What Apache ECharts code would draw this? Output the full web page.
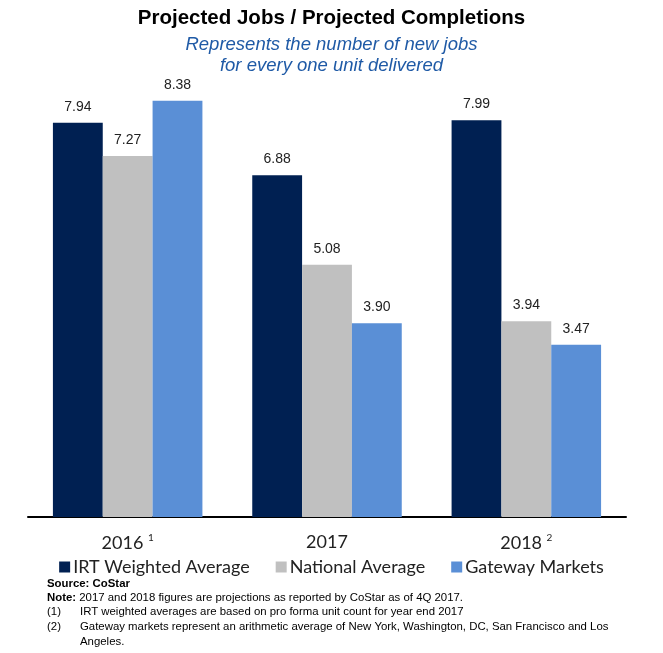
<!DOCTYPE html>
<html>
<head>
<meta charset="utf-8">
<script src="https://cdn.jsdelivr.net/npm/echarts@6/dist/echarts.min.js"></script>
<style>
  html, body { margin: 0; padding: 0; background: #fff; }
  #chart { width: 663px; height: 653px; }
</style>
</head>
<body>
<div id="chart"></div>
<script>
const categories = ['2016', '2017', '2018']
const superscripts = ['1', '', '2']
const irtWeighted = [7.94, 6.88, 7.99]
const nationalAvg = [7.27, 5.08, 3.94]
const gatewayMarkets = [8.38, 3.90, 3.47]

const COLORS = ['#002052', '#c0c0c0', '#5a8fd6']
const NOTE_FONT = '"Liberation Sans Narrow", "Liberation Sans", Arial, sans-serif'
const NOTE_SIZE = 11.4

const barLabel = {
  show: true,
  position: 'top',
  distance: 9,
  color: '#222',
  fontFamily: '"Liberation Sans", Arial, sans-serif',
  fontSize: 14,
  formatter: (p) => p.value.toFixed(2),
}

const makeSeries = (name, data) => ({
  name,
  type: 'bar',
  data,
  barGap: 0,
  barCategoryGap: '25%',
  label: barLabel,
})

// footnote lines all share one line height so they sit on the same baselines
const noteText = (left, top, text, extra) => ({
  type: 'text',
  left,
  top,
  style: Object.assign({ text, font: NOTE_SIZE + 'px ' + NOTE_FONT, lineHeight: 15, fill: '#000' }, extra || {}),
})

const chart = echarts.init(document.getElementById('chart'))

chart.setOption({
  backgroundColor: '#fff',
  color: COLORS,
  animation: false,
  title: {
    left: 'center',
    top: 3,
    itemGap: 5,
    text: 'Projected Jobs / Projected Completions',
    textStyle: {
      fontFamily: '"Liberation Sans", Arial, sans-serif',
      fontWeight: 'bold',
      fontSize: 20.5,
      color: '#000',
    },
    subtext: 'Represents the number of new jobs\nfor every one unit delivered',
    subtextStyle: {
      fontFamily: '"Liberation Sans", Arial, sans-serif',
      fontStyle: 'italic',
      fontSize: 18.5,
      lineHeight: 21,
      color: '#1f5aa6',
    },
  },
  legend: {
    bottom: 72,
    left: 'center',
    itemWidth: 11,
    itemHeight: 11,
    itemGap: 26,
    icon: 'rect',
    textStyle: {
      fontFamily: 'Lato, "Open Sans", sans-serif',
      fontSize: 18,
      color: '#222',
      padding: [0, 0, 0, -2],
    },
  },
  grid: {
    left: 28,
    right: 37,
    top: 70,
    bottom: 136,
  },
  xAxis: {
    type: 'category',
    data: categories,
    axisLine: { lineStyle: { color: '#000', width: 2 } },
    axisTick: { show: false },
    axisLabel: {
      margin: 16,
      formatter: (v, i) => superscripts[i] ? v + ' {sup|' + superscripts[i] + '}' : v,
      fontFamily: 'Lato, "Open Sans", sans-serif',
      fontSize: 18,
      color: '#222',
      rich: {
        sup: {
          fontSize: 10,
          verticalAlign: 'top',
          padding: [0, 0, 10, 0],
          color: '#222',
        },
      },
    },
  },
  yAxis: {
    type: 'value',
    min: 0,
    max: 9,
    show: false,
    splitLine: { show: false },
  },
  series: [
    makeSeries('IRT Weighted Average', irtWeighted),
    makeSeries('National Average', nationalAvg),
    makeSeries('Gateway Markets', gatewayMarkets),
  ],
  graphic: [
    noteText(47, 576, 'Source: CoStar', { font: 'bold ' + NOTE_SIZE + 'px ' + NOTE_FONT }),
    noteText(47, 590, '{b|Note:} 2017 and 2018 figures are projections as reported by CoStar as of 4Q 2017.', {
      rich: { b: { fontWeight: 'bold', fontFamily: NOTE_FONT, fontSize: NOTE_SIZE, lineHeight: 15 } },
    }),
    noteText(47, 604, '(1)'),
    noteText(80, 604, 'IRT weighted averages are based on pro forma unit count for year end 2017'),
    noteText(47, 619, '(2)'),
    noteText(80, 619, 'Gateway markets represent an arithmetic average of New York, Washington, DC, San Francisco and Los\nAngeles.'),
  ],
})
</script>
</body>
</html>
